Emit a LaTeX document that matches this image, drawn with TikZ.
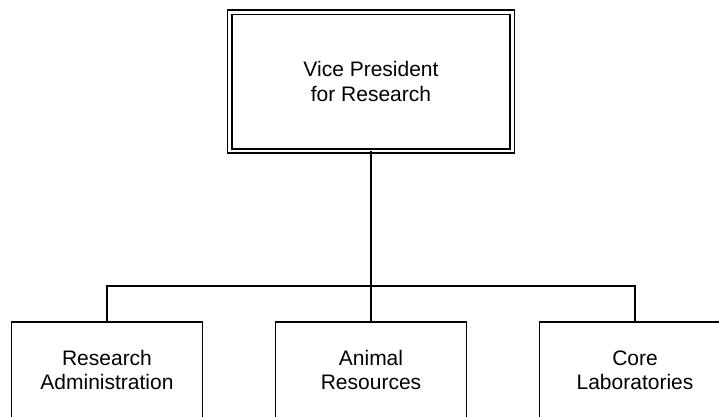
\documentclass[tikz,border=0pt]{standalone}
\usepackage{fontspec}
\setmainfont{Liberation Sans}
\usetikzlibrary{positioning}

\begin{document}
\begin{tikzpicture}[x=1pt,y=-1pt,node distance=171pt and 73pt,
office/.style={
% The shape:
rectangle,
% The size:
minimum width=191pt, minimum height=96pt,
% The border:
line width=1.5pt, draw=black, outer sep=0pt,
% Font
font=\fontsize{21}{24.5}\selectfont, align=center
},
head/.style={
% The shape:
rectangle,
% The size:
minimum width=282.7pt, minimum height=138.9pt,
% The border: a double line
draw=black, line width=1.6pt, double, double distance=2.6pt, outer sep=0pt,
% Font
font=\fontsize{21}{24.5}\selectfont, align=center
},
link/.style={line width=1.5pt}]

\useasboundingbox (0,0) rectangle (719,416);

\node (vp) [head] at (371,81.7) {Vice President\\ for Research};
\node (ar) [office, below=of vp] {Animal\\ Resources};
\node (ra) [office, left=of ar] {Research\\ Administration};
\node (cl) [office, right=of ar] {Core\\ Laboratories};
\coordinate (bus) at (371,286);

\draw[link] (vp.south) -- (vp.south |- bus);
\draw[link] (ra.north) -- (ra.north |- bus) -- (cl.north |- bus) -- (cl.north);
\draw[link] (ar.north) -- (ar.north |- bus);
\end{tikzpicture}
\end{document}
